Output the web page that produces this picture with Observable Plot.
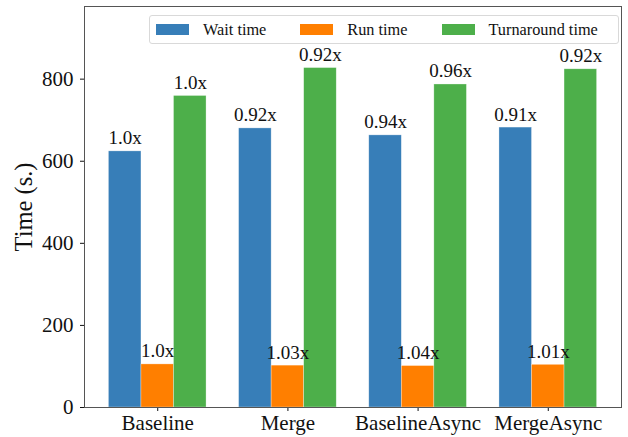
<!DOCTYPE html>
<html>
<head>
<meta charset="utf-8">
<script src="https://cdn.jsdelivr.net/npm/d3@7"></script>
<script src="https://cdn.jsdelivr.net/npm/@observablehq/plot@0.6"></script>
<style>
  html, body { margin: 0; padding: 0; background: #fff; }
  #wrap { position: relative; width: 628px; height: 437px; font-family: "Liberation Serif", serif; }
  #legend { position: absolute; left: 149px; top: 15px; width: 462px; height: 27px; border: 1px solid #d9d9d9; border-radius: 3px; background: rgba(255,255,255,0.8); display: flex; align-items: center; padding-left: 6px; box-sizing: content-box; font-size: 16.3px; color: #111; }
  #legend .item { display: flex; align-items: center; margin-right: 34px; }
  #legend .sw { width: 33px; height: 11px; margin-right: 14px; }
</style>
</head>
<body>
<div id="wrap"><div id="legend"></div></div>
<script>
const categories = ["Baseline", "Merge", "BaselineAsync", "MergeAsync"];
const series = ["Wait time", "Run time", "Turnaround time"];
const colors = ["#377eb8", "#ff7f00", "#4daf4a"];
const waitTime = [624, 680, 663, 682];
const runTime = [105, 102, 101, 104];
const turnaroundTime = [759, 827, 787, 824];
const waitLabels = ["1.0x", "0.92x", "0.94x", "0.91x"];
const runLabels = ["1.0x", "1.03x", "1.04x", "1.01x"];
const turnaroundLabels = ["1.0x", "0.92x", "0.96x", "0.92x"];
const yTicks = [0, 200, 400, 600, 800];
const yMax = 977;

const barWidth = 0.25;
const values = [waitTime, runTime, turnaroundTime];
const labels = [waitLabels, runLabels, turnaroundLabels];
const rows = [];
categories.forEach((c, i) => {
  series.forEach((s, j) => {
    const center = i + (j - 1) * barWidth;
    rows.push({cat: c, series: s, x1: center - barWidth / 2, x2: center + barWidth / 2, xc: center, y: values[j][i], label: labels[j][i]});
  });
});

const font = "Liberation Serif, serif";
const chart = Plot.plot({
  width: 628,
  height: 437,
  marginLeft: 84,
  marginRight: 7,
  marginTop: 6,
  marginBottom: 30,
  style: {background: "transparent", color: "#111"},
  x: {domain: [-0.5625, 3.5625]},
  y: {domain: [0, yMax]},
  color: {domain: series, range: colors},
  marks: [
    Plot.rectY(rows, {x1: "x1", x2: "x2", y1: 0, y2: "y", fill: "series", stroke: "white", strokeWidth: 0.6, strokeOpacity: 0.5}),
    Plot.text(rows, {x: "xc", y: "y", text: "label", dy: -7, lineAnchor: "bottom", textAnchor: "middle", fontSize: 19, fontFamily: font, fill: "#111"}),
    Plot.axisY({ticks: yTicks, tickSize: 4, tickPadding: 7, fontSize: 21, fontFamily: font, label: null}),
    Plot.axisY({ticks: [], tickSize: 0, fontSize: 24.5, fontFamily: font, label: "Time (s.)", labelAnchor: "center", labelOffset: 70, labelArrow: "none"}),
    Plot.axisX({ticks: [0, 1, 2, 3], tickFormat: (d) => categories[d], tickSize: 4, tickPadding: 4, fontSize: 21, fontFamily: font, label: null}),
    Plot.frame({stroke: "#555", strokeWidth: 1})
  ]
});
chart.querySelectorAll("style").forEach((st) => {
  st.textContent = st.textContent.replace(/font-family:[^;}]*/g, "font-family: 'Liberation Serif', serif");
});
chart.setAttribute("font-family", font);
document.getElementById("wrap").prepend(chart);
chart.style.position = "absolute";
chart.style.left = "0";
chart.style.top = "0";

const legend = document.getElementById("legend");
series.forEach((s, j) => {
  const item = document.createElement("div");
  item.className = "item";
  const sw = document.createElement("div");
  sw.className = "sw";
  sw.style.background = colors[j];
  const t = document.createElement("span");
  t.textContent = s;
  item.appendChild(sw);
  item.appendChild(t);
  legend.appendChild(item);
});
document.getElementById("legend").lastChild.style.marginRight = "0";
</script>
</body>
</html>
